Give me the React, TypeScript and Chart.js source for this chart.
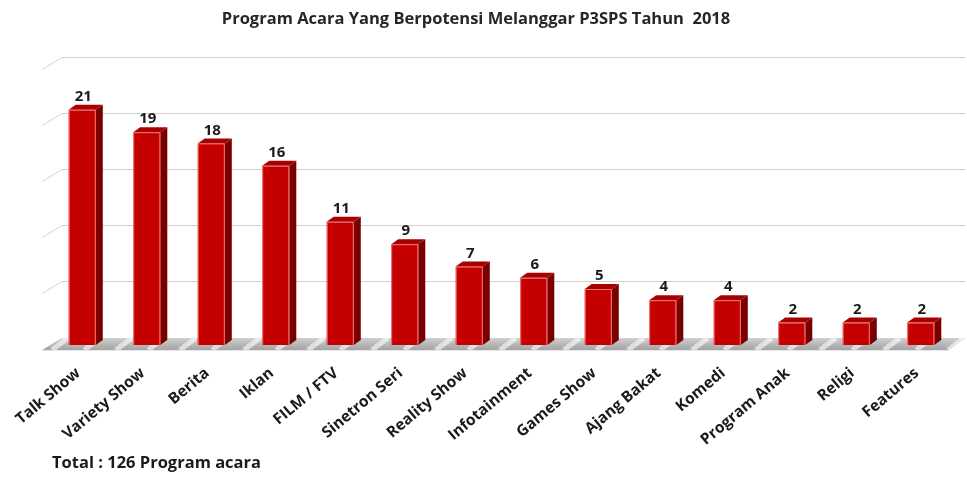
import React, { useEffect, useRef } from "react";
import { Chart, registerables } from "chart.js";

Chart.register(...registerables);

const categories = [
  "Talk Show",
  "Variety Show",
  "Berita",
  "Iklan",
  "FILM / FTV",
  "Sinetron Seri",
  "Reality Show",
  "Infotainment",
  "Games Show",
  "Ajang Bakat",
  "Komedi",
  "Program Anak",
  "Religi",
  "Features",
];
const values = [21, 19, 18, 16, 11, 9, 7, 6, 5, 4, 4, 2, 2, 2];
const yTicks = [0, 5, 10, 15, 20, 25];
const titleText = "Program Acara Yang Berpotensi Melanggar P3SPS Tahun  2018";
const totalText = "Total : 126 Program acara";

const FONT = "'Open Sans', Lato, sans-serif";
const DEPTH_X = 7;
const DEPTH_Y = 5;
const WALL_DX = 20;
const WALL_DY = 12;

const threeDPlugin = {
  id: "threeD",
  beforeDatasetsDraw(chart: any) {
    const { ctx, chartArea, scales } = chart;
    const y = scales.y;
    const left = chartArea.left;
    const right = chartArea.right;
    const base = y.getPixelForValue(0);
    ctx.save();
    const fl = left - 8;
    const fr = right - 5;
    const fy = base + 5;
    const by = base - 7;
    ctx.beginPath();
    ctx.moveTo(fl, fy);
    ctx.lineTo(fr, fy);
    ctx.lineTo(fr + WALL_DX - 3, by);
    ctx.lineTo(fl + WALL_DX, by);
    ctx.closePath();
    const g = ctx.createLinearGradient(0, by, 0, fy);
    g.addColorStop(0, "#cfcfcf");
    g.addColorStop(1, "#a4a4a4");
    ctx.fillStyle = g;
    ctx.fill();
    ctx.save();
    ctx.clip();
    ctx.strokeStyle = "rgba(255,255,255,0.6)";
    ctx.lineWidth = 5;
    for (let x = fl + 10; x < fr + 40; x += 32) {
      ctx.beginPath();
      ctx.moveTo(x, fy);
      ctx.lineTo(x + 16, by);
      ctx.stroke();
    }
    ctx.restore();
    ctx.strokeStyle = "#e8e8e8";
    ctx.lineWidth = 1;
    ctx.beginPath();
    ctx.moveTo(fl, fy + 0.5);
    ctx.lineTo(fr, fy + 0.5);
    ctx.lineTo(fr + WALL_DX - 3, by);
    ctx.stroke();
    ctx.strokeStyle = "#cfcfcf";
    ctx.lineWidth = 1;
    yTicks.forEach((v) => {
      if (v === 0) return;
      const py = Math.round(y.getPixelForValue(v) - 8) + 0.5;
      ctx.beginPath();
      ctx.moveTo(fl, py + WALL_DY);
      ctx.lineTo(fl + WALL_DX, py);
      ctx.lineTo(right + 12, py);
      ctx.stroke();
    });
    ctx.restore();
  },
  afterDatasetsDraw(chart: any) {
    const { ctx } = chart;
    const meta = chart.getDatasetMeta(0);
    ctx.save();
    meta.data.forEach((bar: any, i: number) => {
      const w = bar.width;
      const x0 = bar.x - w / 2;
      const x1 = bar.x + w / 2;
      const top = bar.y;
      const bottom = bar.base;
      ctx.beginPath();
      ctx.moveTo(x1, top);
      ctx.lineTo(x1 + DEPTH_X, top - DEPTH_Y);
      ctx.lineTo(x1 + DEPTH_X, bottom - DEPTH_Y);
      ctx.lineTo(x1, bottom);
      ctx.closePath();
      ctx.fillStyle = "#7a0000";
      ctx.fill();
      ctx.beginPath();
      ctx.moveTo(x0, top);
      ctx.lineTo(x0 + DEPTH_X, top - DEPTH_Y);
      ctx.lineTo(x1 + DEPTH_X, top - DEPTH_Y);
      ctx.lineTo(x1, top);
      ctx.closePath();
      ctx.fillStyle = "#a80000";
      ctx.fill();
      ctx.strokeStyle = "rgba(255,140,140,0.8)";
      ctx.lineWidth = 1;
      ctx.beginPath();
      ctx.moveTo(x0 + 0.5, bottom);
      ctx.lineTo(x0 + 0.5, top + 0.5);
      ctx.lineTo(x1 - 0.5, top + 0.5);
      ctx.lineTo(x1 - 0.5, bottom);
      ctx.stroke();
      ctx.fillStyle = "#1a1a1a";
      ctx.font = `bold 15px ${FONT}`;
      ctx.textAlign = "center";
      ctx.textBaseline = "middle";
      ctx.fillText(String(values[i]), bar.x + 1, top - DEPTH_Y - 8);
    });
    ctx.restore();
  },
  afterDraw(chart: any) {
    const { ctx } = chart;
    ctx.save();
    ctx.fillStyle = "#262626";
    ctx.font = `bold 16.5px ${FONT}`;
    ctx.textAlign = "center";
    ctx.textBaseline = "middle";
    ctx.fillText(titleText, 476, 19);
    ctx.fillStyle = "#1a1a1a";
    ctx.font = `bold 16.5px ${FONT}`;
    ctx.textAlign = "left";
    ctx.fillText(totalText, 52, 463);
    ctx.restore();
  },
};

export default function App() {
  const ref = useRef<HTMLCanvasElement | null>(null);
  useEffect(() => {
    document.body.style.margin = "0";
    const canvas = ref.current;
    if (!canvas) return;
    const chart = new Chart(canvas, {
      type: "bar",
      data: {
        labels: categories,
        datasets: [
          {
            data: values,
            backgroundColor: "#c40000",
            borderWidth: 0,
            barPercentage: 0.42,
            categoryPercentage: 1,
          },
        ],
      },
      options: {
        responsive: false,
        animation: false,
        devicePixelRatio: 1,
        layout: { padding: { left: 50, right: 14, top: 65, bottom: 0 } },
        plugins: {
          legend: { display: false },
          tooltip: { enabled: false },
          title: { display: false },
        },
        scales: {
          x: {
            offset: true,
            grid: { display: false, drawTicks: false },
            border: { display: false },
            ticks: {
              autoSkip: false,
              maxRotation: 40,
              minRotation: 40,
              padding: 19,
              labelOffset: -4,
              color: "#1a1a1a",
              font: { family: FONT, size: 15.5, weight: "bold" },
            },
            afterFit: (s: any) => {
              s.height = 134;
            },
          },
          y: {
            display: false,
            min: 0,
            max: 25,
            ticks: { stepSize: 5 },
          },
        },
      },
      plugins: [threeDPlugin],
    });
    return () => chart.destroy();
  }, []);
  return (
    <div style={{ width: 967, height: 479, position: "relative", background: "#fff" }}>
      <canvas ref={ref} width={967} height={479} />
    </div>
  );
}
